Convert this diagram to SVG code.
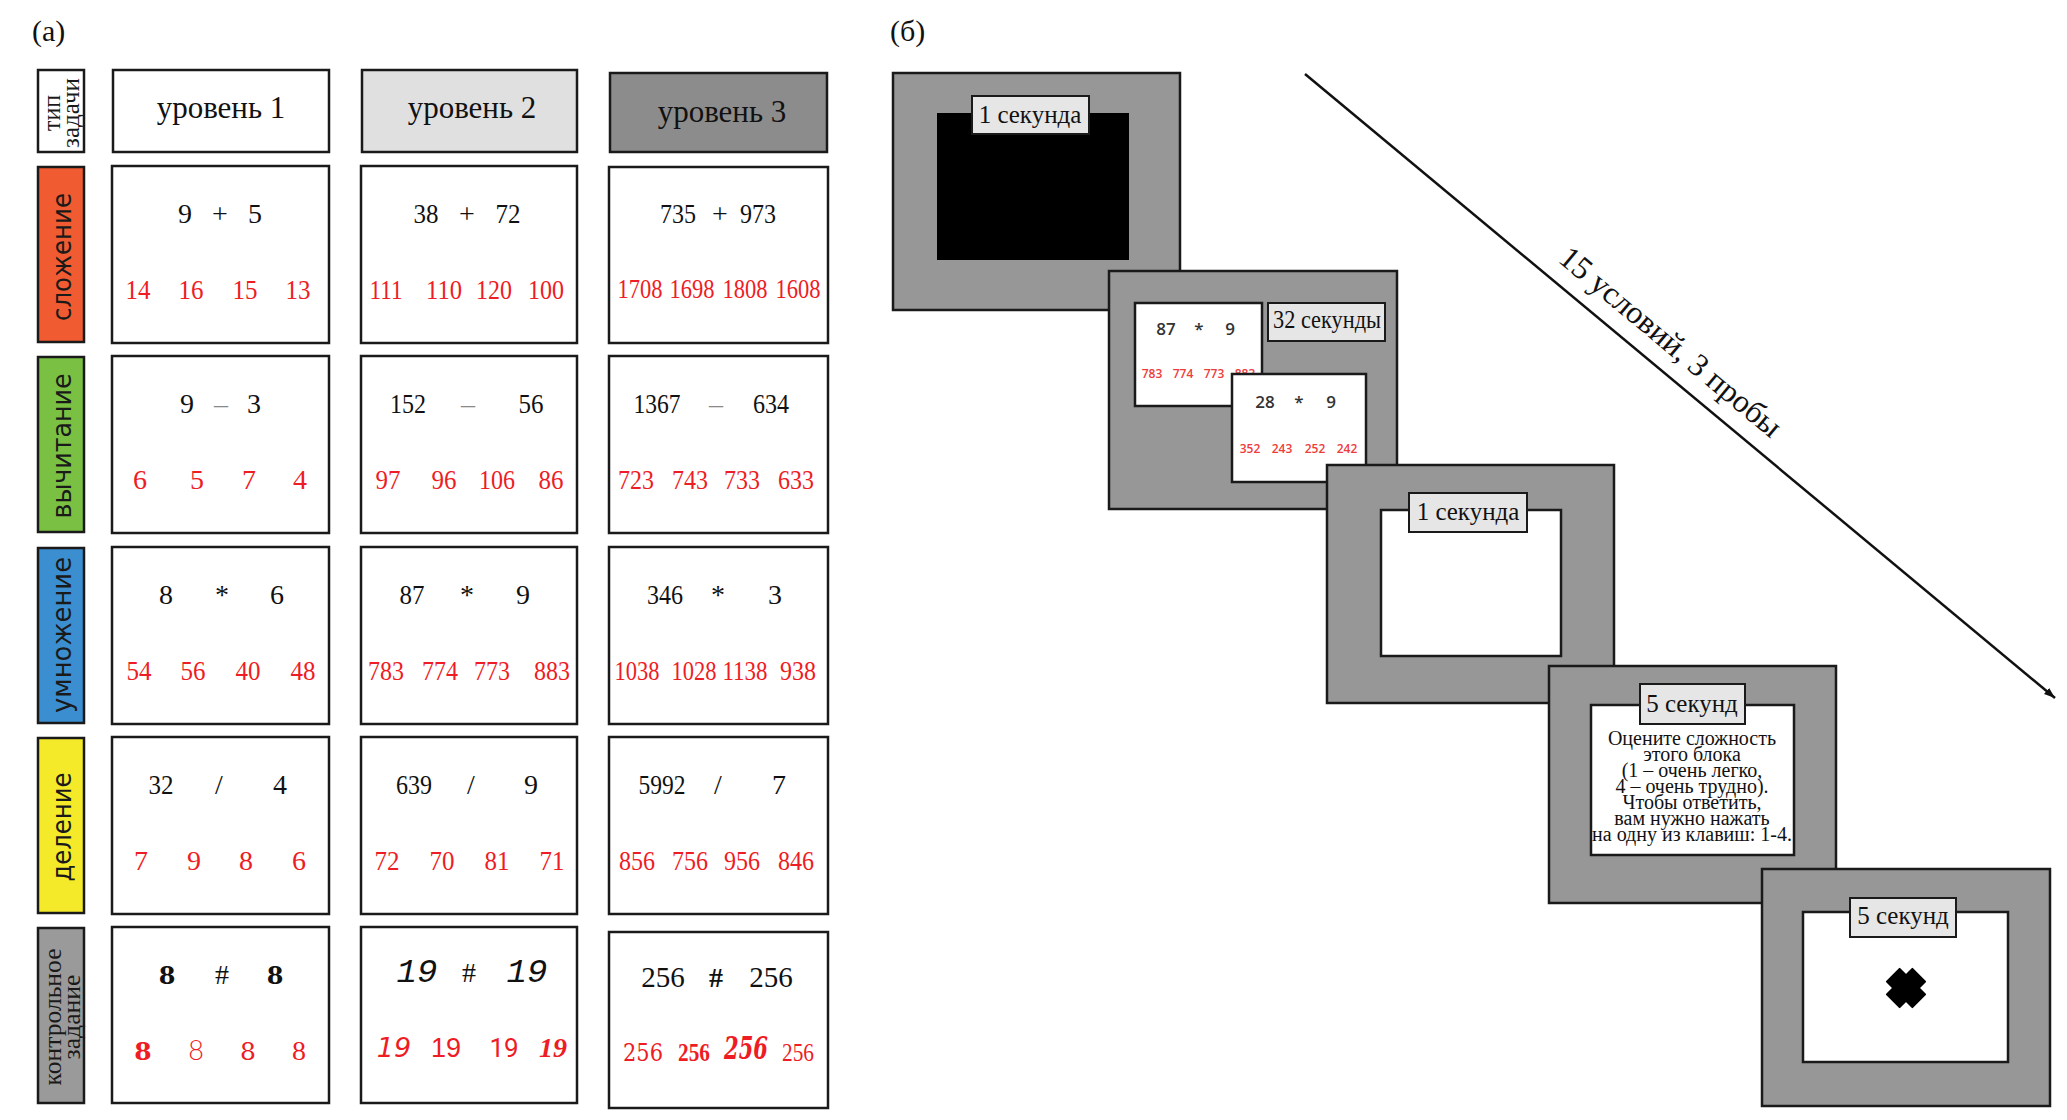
<svg xmlns="http://www.w3.org/2000/svg" width="2067" height="1120" viewBox="0 0 2067 1120">
<style>
text{font-family:"Liberation Serif","Times New Roman",serif;fill:#111}
.cell{fill:#fff;stroke:#1a1a1a;stroke-width:2.5}
.lbl{stroke:#1a1a1a;stroke-width:2.5}
.n{font-size:28px;text-anchor:middle}
.r{font-size:28px;text-anchor:middle;fill:#ee1c24}
.op{font-size:28px;text-anchor:middle}
.hd{font-size:31px;text-anchor:middle}
.vs{font-family:"DejaVu Sans",sans-serif;font-size:26px;text-anchor:middle;fill:#1a1a1a}
.vt{font-size:26px;text-anchor:middle;fill:#1a1a1a}
.scr{fill:#979797;stroke:#1a1a1a;stroke-width:2.5}
.inw{fill:#fff;stroke:#1a1a1a;stroke-width:2.5}
.tag{fill:#e6e6e6;stroke:#1a1a1a;stroke-width:2}
.tt{font-size:25px;text-anchor:middle}
.sn{font-family:"Open Sans","Noto Sans",sans-serif;font-weight:600;font-size:17px;text-anchor:middle;fill:#333}
.sr{font-family:"Open Sans","Noto Sans",sans-serif;font-weight:600;font-size:12px;text-anchor:middle;fill:#ee3b3b}
.pp{font-size:20px;text-anchor:middle}
</style>
<defs>
<marker id="arr" markerUnits="userSpaceOnUse" markerWidth="12" markerHeight="10" refX="11" refY="4" orient="auto">
<path d="M0,0 L11,4 L0,8 z" fill="#111"/>
</marker>
</defs>

<text x="32" y="41" font-size="30">(a)</text>
<text x="890" y="41" font-size="30">(б)</text>

<!-- left column labels -->
<g id="lbl-type">
<rect class="lbl" x="38" y="70" width="46" height="82" fill="#fff"/>
<text class="vt" transform="translate(60,113) rotate(-90)" textLength="36" lengthAdjust="spacingAndGlyphs">тип</text>
<text class="vt" transform="translate(79,113) rotate(-90)" textLength="70" lengthAdjust="spacingAndGlyphs">задачи</text>
</g>
<g id="lbl-add">
<rect class="lbl" x="38" y="167" width="46" height="175" fill="#f15b31"/>
<text class="vs" transform="translate(71,257) rotate(-90)" textLength="128" lengthAdjust="spacingAndGlyphs">сложение</text>
</g>
<g id="lbl-sub">
<rect class="lbl" x="38" y="357" width="46" height="175" fill="#7ac143"/>
<text class="vs" transform="translate(71,446) rotate(-90)" textLength="145" lengthAdjust="spacingAndGlyphs">вычитание</text>
</g>
<g id="lbl-mul">
<rect class="lbl" x="38" y="548" width="46" height="175" fill="#3b8ed0"/>
<text class="vs" transform="translate(71,635) rotate(-90)" textLength="156" lengthAdjust="spacingAndGlyphs">умножение</text>
</g>
<g id="lbl-div">
<rect class="lbl" x="38" y="738" width="46" height="175" fill="#f4ea2a"/>
<text class="vs" transform="translate(71,827) rotate(-90)" textLength="109" lengthAdjust="spacingAndGlyphs">деление</text>
</g>
<g id="lbl-ctrl">
<rect class="lbl" x="38" y="928" width="46" height="175" fill="#9a9a9a"/>
<text class="vt" transform="translate(61,1017) rotate(-90)" textLength="137" lengthAdjust="spacingAndGlyphs">контрольное</text>
<text class="vt" transform="translate(80,1017) rotate(-90)" textLength="85" lengthAdjust="spacingAndGlyphs">задание</text>
</g>

<!-- headers -->
<g id="hdr1"><rect class="cell" x="113" y="70" width="216" height="82"/><text class="hd" x="221" y="118">уровень 1</text></g>
<g id="hdr2"><rect class="cell" x="362" y="70" width="215" height="82" style="fill:#e0e0e0"/><text class="hd" x="472" y="118">уровень 2</text></g>
<g id="hdr3"><rect class="cell" x="610" y="73" width="217" height="79" style="fill:#8c8c8c"/><text class="hd" x="722" y="122">уровень 3</text></g>

<!-- row 1: addition -->
<g id="add-1"><rect class="cell" x="112" y="166" width="217" height="177"/>
<text class="n" x="185" y="223">9</text><text class="op" x="220" y="223">+</text><text class="n" x="255" y="223">5</text>
<text class="r" x="138" y="299" textLength="25" lengthAdjust="spacingAndGlyphs">14</text><text class="r" x="191" y="299" textLength="25" lengthAdjust="spacingAndGlyphs">16</text><text class="r" x="245" y="299" textLength="25" lengthAdjust="spacingAndGlyphs">15</text><text class="r" x="298" y="299" textLength="25" lengthAdjust="spacingAndGlyphs">13</text></g>
<g id="add-2"><rect class="cell" x="361" y="166" width="216" height="177"/>
<text class="n" x="426" y="223" textLength="25" lengthAdjust="spacingAndGlyphs">38</text><text class="op" x="467" y="223">+</text><text class="n" x="508" y="223" textLength="25" lengthAdjust="spacingAndGlyphs">72</text>
<text class="r" x="386" y="299" textLength="33" lengthAdjust="spacingAndGlyphs">111</text><text class="r" x="444" y="299" textLength="36" lengthAdjust="spacingAndGlyphs">110</text><text class="r" x="494" y="299" textLength="36" lengthAdjust="spacingAndGlyphs">120</text><text class="r" x="546" y="299" textLength="36" lengthAdjust="spacingAndGlyphs">100</text></g>
<g id="add-3"><rect class="cell" x="609" y="167" width="219" height="176"/>
<text class="n" x="678" y="223" textLength="36" lengthAdjust="spacingAndGlyphs">735</text><text class="op" x="720" y="223">+</text><text class="n" x="758" y="223" textLength="36" lengthAdjust="spacingAndGlyphs">973</text>
<text class="r" x="640" y="298" textLength="45" lengthAdjust="spacingAndGlyphs">1708</text><text class="r" x="692" y="298" textLength="45" lengthAdjust="spacingAndGlyphs">1698</text><text class="r" x="745" y="298" textLength="45" lengthAdjust="spacingAndGlyphs">1808</text><text class="r" x="798" y="298" textLength="45" lengthAdjust="spacingAndGlyphs">1608</text></g>

<!-- row 2: subtraction -->
<g id="sub-1"><rect class="cell" x="112" y="356" width="217" height="177"/>
<text class="n" x="187" y="413">9</text><text class="op" x="221" y="413" style="fill:#888">–</text><text class="n" x="254" y="413">3</text>
<text class="r" x="140" y="489">6</text><text class="r" x="197" y="489">5</text><text class="r" x="249" y="489">7</text><text class="r" x="300" y="489">4</text></g>
<g id="sub-2"><rect class="cell" x="361" y="356" width="216" height="177"/>
<text class="n" x="408" y="413" textLength="36" lengthAdjust="spacingAndGlyphs">152</text><text class="op" x="468" y="413" style="fill:#888">–</text><text class="n" x="531" y="413" textLength="25" lengthAdjust="spacingAndGlyphs">56</text>
<text class="r" x="388" y="489" textLength="25" lengthAdjust="spacingAndGlyphs">97</text><text class="r" x="444" y="489" textLength="25" lengthAdjust="spacingAndGlyphs">96</text><text class="r" x="497" y="489" textLength="36" lengthAdjust="spacingAndGlyphs">106</text><text class="r" x="551" y="489" textLength="25" lengthAdjust="spacingAndGlyphs">86</text></g>
<g id="sub-3"><rect class="cell" x="609" y="356" width="219" height="177"/>
<text class="n" x="657" y="413" textLength="47" lengthAdjust="spacingAndGlyphs">1367</text><text class="op" x="716" y="413" style="fill:#888">–</text><text class="n" x="771" y="413" textLength="36" lengthAdjust="spacingAndGlyphs">634</text>
<text class="r" x="636" y="489" textLength="36" lengthAdjust="spacingAndGlyphs">723</text><text class="r" x="690" y="489" textLength="36" lengthAdjust="spacingAndGlyphs">743</text><text class="r" x="742" y="489" textLength="36" lengthAdjust="spacingAndGlyphs">733</text><text class="r" x="796" y="489" textLength="36" lengthAdjust="spacingAndGlyphs">633</text></g>

<!-- row 3: multiplication -->
<g id="mul-1"><rect class="cell" x="112" y="547" width="217" height="177"/>
<text class="n" x="166" y="604">8</text><text class="op" x="222" y="604">*</text><text class="n" x="277" y="604">6</text>
<text class="r" x="139" y="680" textLength="25" lengthAdjust="spacingAndGlyphs">54</text><text class="r" x="193" y="680" textLength="25" lengthAdjust="spacingAndGlyphs">56</text><text class="r" x="248" y="680" textLength="25" lengthAdjust="spacingAndGlyphs">40</text><text class="r" x="303" y="680" textLength="25" lengthAdjust="spacingAndGlyphs">48</text></g>
<g id="mul-2"><rect class="cell" x="361" y="547" width="216" height="177"/>
<text class="n" x="412" y="604" textLength="25" lengthAdjust="spacingAndGlyphs">87</text><text class="op" x="467" y="604">*</text><text class="n" x="523" y="604">9</text>
<text class="r" x="386" y="680" textLength="36" lengthAdjust="spacingAndGlyphs">783</text><text class="r" x="440" y="680" textLength="36" lengthAdjust="spacingAndGlyphs">774</text><text class="r" x="492" y="680" textLength="36" lengthAdjust="spacingAndGlyphs">773</text><text class="r" x="552" y="680" textLength="36" lengthAdjust="spacingAndGlyphs">883</text></g>
<g id="mul-3"><rect class="cell" x="609" y="547" width="219" height="177"/>
<text class="n" x="665" y="604" textLength="36" lengthAdjust="spacingAndGlyphs">346</text><text class="op" x="718" y="604">*</text><text class="n" x="775" y="604">3</text>
<text class="r" x="637" y="680" textLength="45" lengthAdjust="spacingAndGlyphs">1038</text><text class="r" x="694" y="680" textLength="45" lengthAdjust="spacingAndGlyphs">1028</text><text class="r" x="745" y="680" textLength="45" lengthAdjust="spacingAndGlyphs">1138</text><text class="r" x="798" y="680" textLength="36" lengthAdjust="spacingAndGlyphs">938</text></g>

<!-- row 4: division -->
<g id="div-1"><rect class="cell" x="112" y="737" width="217" height="177"/>
<text class="n" x="161" y="794" textLength="25" lengthAdjust="spacingAndGlyphs">32</text><text class="op" x="219" y="794">/</text><text class="n" x="280" y="794">4</text>
<text class="r" x="141" y="870">7</text><text class="r" x="194" y="870">9</text><text class="r" x="246" y="870">8</text><text class="r" x="299" y="870">6</text></g>
<g id="div-2"><rect class="cell" x="361" y="737" width="216" height="177"/>
<text class="n" x="414" y="794" textLength="36" lengthAdjust="spacingAndGlyphs">639</text><text class="op" x="471" y="794">/</text><text class="n" x="531" y="794">9</text>
<text class="r" x="387" y="870" textLength="25" lengthAdjust="spacingAndGlyphs">72</text><text class="r" x="442" y="870" textLength="25" lengthAdjust="spacingAndGlyphs">70</text><text class="r" x="497" y="870" textLength="25" lengthAdjust="spacingAndGlyphs">81</text><text class="r" x="552" y="870" textLength="25" lengthAdjust="spacingAndGlyphs">71</text></g>
<g id="div-3"><rect class="cell" x="609" y="737" width="219" height="177"/>
<text class="n" x="662" y="794" textLength="47" lengthAdjust="spacingAndGlyphs">5992</text><text class="op" x="718" y="794">/</text><text class="n" x="779" y="794">7</text>
<text class="r" x="637" y="870" textLength="36" lengthAdjust="spacingAndGlyphs">856</text><text class="r" x="690" y="870" textLength="36" lengthAdjust="spacingAndGlyphs">756</text><text class="r" x="742" y="870" textLength="36" lengthAdjust="spacingAndGlyphs">956</text><text class="r" x="796" y="870" textLength="36" lengthAdjust="spacingAndGlyphs">846</text></g>

<!-- row 5: control -->
<g id="ctl-1"><rect class="cell" x="112" y="927" width="217" height="176"/>
<text x="167" y="984" text-anchor="middle" style="font-family:'DejaVu Serif',serif;font-weight:bold;font-size:24px">8</text>
<text class="op" x="222" y="984">#</text>
<text x="275" y="984" text-anchor="middle" style="font-family:'DejaVu Serif',serif;font-weight:bold;font-size:24px">8</text>
<text x="143" y="1060" text-anchor="middle" style="font-family:'DejaVu Serif',serif;font-weight:bold;font-size:25px;fill:#ee1c24">8</text>
<text x="196" y="1060" text-anchor="middle" style="font-family:Lato,sans-serif;font-weight:300;font-size:27px;fill:#ee1c24">8</text>
<text x="248" y="1060" text-anchor="middle" style="font-family:'DejaVu Serif',serif;font-size:25px;fill:#ee1c24">8</text>
<text x="299" y="1060" text-anchor="middle" style="font-size:28px;fill:#ee1c24">8</text></g>
<g id="ctl-2"><rect class="cell" x="361" y="927" width="216" height="176"/>
<text x="417" y="982" text-anchor="middle" style="font-family:'Liberation Mono',monospace;font-style:italic;font-size:34px">19</text>
<text class="op" x="469" y="982">#</text>
<text x="527" y="982" text-anchor="middle" style="font-family:'Liberation Mono',monospace;font-style:italic;font-size:34px">19</text>
<text x="394" y="1057" text-anchor="middle" style="font-family:'DejaVu Sans',sans-serif;font-style:italic;font-size:27px;fill:#ee1c24">19</text>
<text x="446" y="1057" text-anchor="middle" style="font-family:'Liberation Sans',sans-serif;font-size:27px;fill:#ee1c24">19</text>
<text x="504" y="1057" text-anchor="middle" style="font-family:Roboto,sans-serif;font-size:26px;fill:#ee1c24">19</text>
<text x="553" y="1057" text-anchor="middle" style="font-weight:bold;font-style:italic;font-size:28px;fill:#ee1c24">19</text></g>
<g id="ctl-3"><rect class="cell" x="609" y="932" width="219" height="176"/>
<text x="663" y="987" text-anchor="middle" style="font-size:29px">256</text>
<text x="716" y="987" text-anchor="middle" style="font-weight:bold;font-size:28px">#</text>
<text x="771" y="987" text-anchor="middle" style="font-size:29px">256</text>
<text x="643" y="1061" text-anchor="middle" style="font-family:'DejaVu Serif',serif;font-size:25px;fill:#ee1c24" textLength="40" lengthAdjust="spacingAndGlyphs">256</text>
<text x="694" y="1061" text-anchor="middle" style="font-weight:bold;font-size:26px;fill:#ee1c24" textLength="32" lengthAdjust="spacingAndGlyphs">256</text>
<text x="746" y="1059" text-anchor="middle" style="font-family:'DejaVu Serif',serif;font-weight:bold;font-style:italic;font-size:31px;fill:#ee1c24" textLength="44" lengthAdjust="spacingAndGlyphs">256</text>
<text x="798" y="1061" text-anchor="middle" style="font-size:25px;fill:#ee1c24" textLength="32" lengthAdjust="spacingAndGlyphs">256</text></g>

<!-- right panel: screens -->
<g id="screen1">
<rect class="scr" x="893" y="73" width="287" height="237"/>
<rect x="937" y="113" width="192" height="147" fill="#000"/>
<rect class="tag" x="972" y="96" width="117" height="38"/>
<text class="tt" x="1030" y="123">1 секунда</text>
</g>
<g id="screen2">
<rect class="scr" x="1109" y="271" width="288" height="238"/>
<g id="task-a">
<rect class="inw" x="1135" y="303" width="127" height="103"/>
<text class="sn" x="1166" y="335">87</text><text class="sn" x="1199" y="335">*</text><text class="sn" x="1230" y="335">9</text>
<text class="sr" x="1152" y="378">783</text><text class="sr" x="1183" y="378">774</text><text class="sr" x="1214" y="378">773</text><text class="sr" x="1245" y="378">883</text>
</g>
<rect class="tag" x="1268" y="303" width="117" height="38"/>
<text class="tt" x="1327" y="328" textLength="108" lengthAdjust="spacingAndGlyphs">32 секунды</text>
<g id="task-b">
<rect class="inw" x="1232" y="374" width="134" height="108"/>
<text class="sn" x="1265" y="408">28</text><text class="sn" x="1299" y="408">*</text><text class="sn" x="1331" y="408">9</text>
<text class="sr" x="1250" y="453">352</text><text class="sr" x="1282" y="453">243</text><text class="sr" x="1315" y="453">252</text><text class="sr" x="1347" y="453">242</text>
</g>
</g>
<g id="screen3">
<rect class="scr" x="1327" y="465" width="287" height="238"/>
<rect class="inw" x="1381" y="510" width="180" height="146"/>
<rect class="tag" x="1409" y="493" width="118" height="39"/>
<text class="tt" x="1468" y="520">1 секунда</text>
</g>
<g id="screen4">
<rect class="scr" x="1549" y="666" width="287" height="237"/>
<rect class="inw" x="1591" y="705" width="203" height="150"/>
<rect class="tag" x="1640" y="684" width="105" height="40"/>
<text class="tt" x="1692" y="712">5 секунд</text>
<text class="pp" x="1692" y="745">Оцените сложность<tspan x="1692" dy="16">этого блока</tspan><tspan x="1692" dy="16">(1 – очень легко,</tspan><tspan x="1692" dy="16">4 – очень трудно).</tspan><tspan x="1692" dy="16">Чтобы ответить,</tspan><tspan x="1692" dy="16">вам нужно нажать</tspan><tspan x="1692" dy="16">на одну из клавиш: 1-4.</tspan></text>
</g>
<g id="screen5">
<rect class="scr" x="1762" y="869" width="288" height="237"/>
<rect class="inw" x="1803" y="912" width="205" height="150"/>
<rect class="tag" x="1850" y="898" width="106" height="39"/>
<text class="tt" x="1903" y="924">5 секунд</text>
<g transform="translate(1906,988) rotate(45)" fill="#000" stroke="#000" stroke-width="2" stroke-linejoin="round">
<rect x="-9" y="-18" width="18" height="36"/>
<rect x="-18" y="-9" width="36" height="18"/>
</g>
</g>

<!-- connector -->
<g id="connectors">
<line x1="1305" y1="74" x2="2055" y2="698" stroke="#111" stroke-width="2.5" marker-end="url(#arr)"/>
<text transform="translate(1557,261) rotate(39.76)" font-size="32">15 условий, 3 пробы</text>
</g>
</svg>
